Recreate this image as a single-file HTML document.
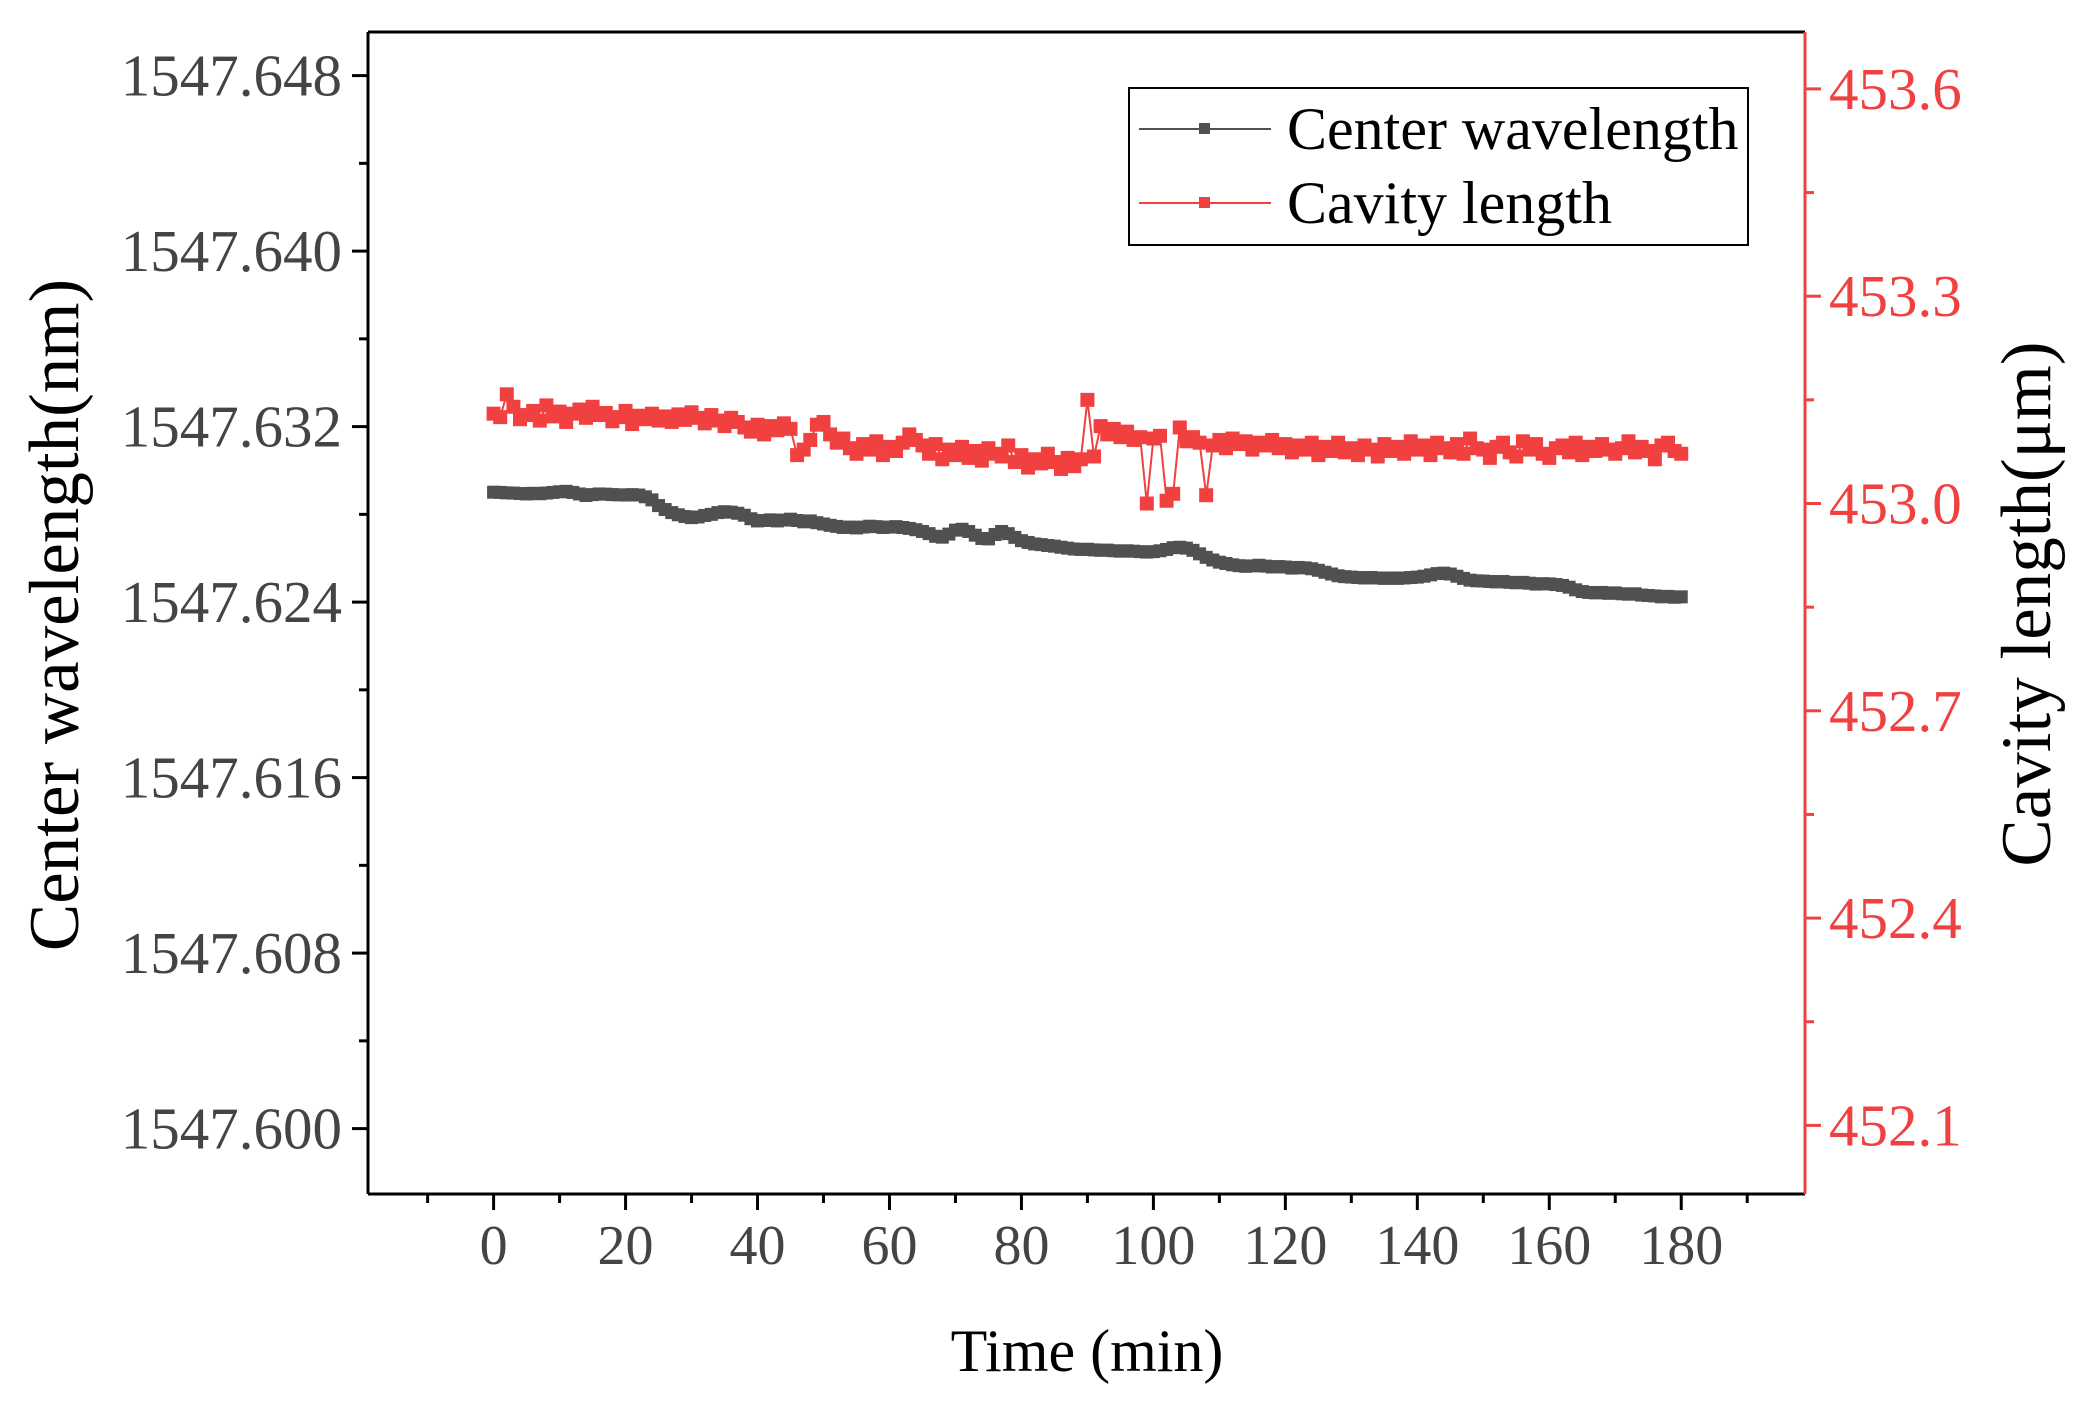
<!DOCTYPE html>
<html><head><meta charset="utf-8"><style>
html,body{margin:0;padding:0;background:#fff;}
svg{display:block;font-family:"Liberation Serif",serif;}
</style></head><body>
<svg id="chart" width="2081" height="1402" viewBox="0 0 2081 1402" xmlns="http://www.w3.org/2000/svg">
<g id="axes"></g>
<g id="series"></g>
<g id="legend">
<rect x="1129" y="88" width="619" height="157" fill="#fff" stroke="#000" stroke-width="2"/>
<g>
<line x1="1139" y1="129" x2="1271" y2="129" stroke="#505050" stroke-width="2"/>
<rect x="1199" y="123" width="11" height="11" fill="#505050"/>
<text x="1287" y="149" font-size="60" fill="#000">Center wavelength</text>
</g>
<g>
<line x1="1139" y1="203" x2="1271" y2="203" stroke="#f04040" stroke-width="2"/>
<rect x="1199" y="197" width="11" height="11" fill="#f04040"/>
<text x="1287" y="223" font-size="60" fill="#000">Cavity length</text>
</g>
</g>
<text x="1087" y="1371" font-size="60" text-anchor="middle" fill="#000">Time (min)</text>
<text transform="translate(78,615) rotate(-90)" font-size="71" text-anchor="middle" fill="#000">Center wavelength(nm)</text>
<text transform="translate(2050,604) rotate(-90)" font-size="71" text-anchor="middle" fill="#000">Cavity length(μm)</text>
</svg>
<script>
const times = [];
for (let i = 0; i <= 180; i++) times.push(i);
const wavelength = [1547.62901,1547.62900,1547.62898,1547.62897,1547.62895,1547.62893,1547.62896,1547.62894,1547.62897,1547.62900,1547.62903,1547.62905,1547.62900,1547.62893,1547.62886,1547.62890,1547.62893,1547.62892,1547.62890,1547.62889,1547.62888,1547.62890,1547.62888,1547.62880,1547.62866,
1547.62840,1547.62822,1547.62808,1547.62798,1547.62790,1547.62785,1547.62788,1547.62795,1547.62800,1547.62808,1547.62812,1547.62810,1547.62805,1547.62796,1547.62780,1547.62770,1547.62772,1547.62775,1547.62770,1547.62774,1547.62778,1547.62772,1547.62766,1547.62770,1547.62762,
1547.62756,1547.62750,1547.62745,1547.62740,1547.62742,1547.62738,1547.62742,1547.62746,1547.62744,1547.62740,1547.62742,1547.62744,1547.62740,1547.62736,1547.62730,1547.62722,1547.62712,1547.62700,1547.62696,1547.62710,1547.62728,1547.62732,1547.62722,1547.62705,1547.62690,
1547.62688,1547.62708,1547.62722,1547.62712,1547.62695,1547.62680,1547.62672,1547.62665,1547.62662,1547.62658,1547.62655,1547.62650,1547.62646,1547.62642,1547.62640,1547.62641,1547.62638,1547.62636,1547.62637,1547.62634,1547.62632,1547.62634,1547.62632,1547.62630,1547.62628,
1547.62630,1547.62634,1547.62640,1547.62648,1547.62650,1547.62646,1547.62636,1547.62620,1547.62604,1547.62592,1547.62582,1547.62576,1547.62570,1547.62566,1547.62563,1547.62565,1547.62568,1547.62564,1547.62560,1547.62562,1547.62560,1547.62555,1547.62558,1547.62556,1547.62552,
1547.62545,1547.62536,1547.62528,1547.62520,1547.62516,1547.62514,1547.62512,1547.62510,1547.62512,1547.62510,1547.62508,1547.62510,1547.62508,1547.62510,1547.62512,1547.62514,1547.62518,1547.62524,1547.62530,1547.62532,1547.62528,1547.62518,1547.62508,1547.62500,1547.62497,
1547.62496,1547.62494,1547.62492,1547.62494,1547.62490,1547.62488,1547.62490,1547.62486,1547.62482,1547.62484,1547.62483,1547.62480,1547.62476,1547.62468,1547.62456,1547.62448,1547.62444,1547.62442,1547.62444,1547.62440,1547.62442,1547.62438,1547.62436,1547.62438,1547.62432,
1547.62430,1547.62428,1547.62424,1547.62426,1547.62422,1547.62424];
const cavity = [453.130,453.125,453.158,453.140,453.122,453.128,453.134,453.120,453.142,453.126,453.133,453.118,453.130,453.136,453.124,453.140,453.128,453.131,453.119,453.125,
453.134,453.115,453.127,453.122,453.130,453.120,453.126,453.118,453.129,453.121,453.132,453.124,453.116,453.128,453.120,453.112,453.124,453.118,453.110,453.104,
453.114,453.100,453.112,453.106,453.116,453.108,453.070,453.078,453.092,453.114,453.118,453.100,453.088,453.094,453.080,453.072,453.086,453.078,453.090,453.070,
453.082,453.076,453.088,453.100,453.092,453.084,453.072,453.086,453.064,453.078,453.070,453.082,453.066,453.076,453.062,453.080,453.072,453.068,453.084,453.060,
453.070,453.052,453.064,453.058,453.072,453.060,453.050,453.066,453.054,453.064,453.150,453.068,453.112,453.100,453.108,453.096,453.104,453.092,453.096,453.000,
453.094,453.098,453.004,453.014,453.110,453.090,453.096,453.088,453.012,453.084,453.092,453.080,453.094,453.086,453.090,453.078,453.088,453.084,453.092,453.080,
453.086,453.074,453.084,453.078,453.088,453.070,453.082,453.076,453.088,453.074,453.080,453.070,453.084,453.078,453.068,453.086,453.076,453.082,453.072,453.090,
453.078,453.084,453.070,453.088,453.080,453.074,453.086,453.072,453.094,453.080,453.078,453.066,453.082,453.088,453.074,453.068,453.090,453.078,453.086,453.072,
453.066,453.080,453.084,453.074,453.088,453.070,453.082,453.076,453.086,453.078,453.072,453.080,453.090,453.074,453.082,453.076,453.064,453.084,453.088,453.076,453.072];
const xTicks = [0,20,40,60,80,100,120,140,160,180];
const xMinor = [-10,10,30,50,70,90,110,130,150,170,190];
const leftTicks = ["1547.600","1547.608","1547.616","1547.624","1547.632","1547.640","1547.648"];
const rightTicks = ["452.1","452.4","452.7","453.0","453.3","453.6"];

const L=368,R=1805,T=32,B=1194;
const NS="http://www.w3.org/2000/svg";
function X(t){return 493.6+t*6.598;}
function YL(v){return 75.6+(1547.648-v)/0.008*175.5;}
function YR(v){return 88.9+(453.6-v)/0.3*207.3;}
function mk(tag,attrs,parent){const e=document.createElementNS(NS,tag);for(const k in attrs)e.setAttribute(k,attrs[k]);parent.appendChild(e);return e;}
const axes=document.getElementById('axes');
const series=document.getElementById('series');
const RED="#f04040";

let e;
e=mk('line',{x1:L,y1:T,x2:R,y2:T,stroke:'#000','stroke-width':3},axes);


e=mk('line',{x1:L,y1:B,x2:R,y2:B,stroke:'#000','stroke-width':3},axes);


e=mk('line',{x1:L,y1:T,x2:L,y2:B,stroke:'#000','stroke-width':3},axes);


e=mk('line',{x1:R,y1:T,x2:R,y2:B,stroke:RED,'stroke-width':3},axes);



xTicks.forEach(t=>{
  const x=X(t);
  e=mk('line',{x1:x,y1:B,x2:x,y2:B+16,stroke:'#000','stroke-width':3},axes);
  
  
  e=mk('text',{x:x,y:1264,'font-size':56,'text-anchor':'middle',fill:'#444'},axes);
  e.textContent=t;
  
  
});
xMinor.forEach(t=>{
  e=mk('line',{x1:X(t),y1:B,x2:X(t),y2:B+9,stroke:'#000','stroke-width':3},axes);
  
  
});
leftTicks.forEach(s=>{
  const y=YL(parseFloat(s));
  e=mk('line',{x1:L-16,y1:y,x2:L,y2:y,stroke:'#000','stroke-width':3},axes);
  
  
  const ym=YL(parseFloat(s)-0.004);
  if(ym<B){
    e=mk('line',{x1:L-9,y1:ym,x2:L,y2:ym,stroke:'#000','stroke-width':3},axes);
    
    
  }
  e=mk('text',{x:342,y:y+20,'font-size':59,'text-anchor':'end',fill:'#444'},axes);
  e.textContent=s;
  
  
});
rightTicks.forEach(s=>{
  const y=YR(parseFloat(s));
  e=mk('line',{x1:R,y1:y,x2:R+16,y2:y,stroke:RED,'stroke-width':3},axes);
  
  
  const ym=YR(parseFloat(s)-0.15);
  if(ym<B){
    e=mk('line',{x1:R,y1:ym,x2:R+9,y2:ym,stroke:RED,'stroke-width':3},axes);
    
    
  }
  e=mk('text',{x:1829,y:y+20,'font-size':59,'text-anchor':'start',fill:RED},axes);
  e.textContent=s;
  
  
});

function drawSeries(vals,yf,color,name,sz){
  const g=mk('g',{},series);
  
  
  const pts=vals.map((v,i)=>X(times[i]).toFixed(1)+','+yf(v).toFixed(1)).join(' ');
  e=mk('polyline',{points:pts,fill:'none',stroke:color,'stroke-width':2},g);
  
  
  vals.forEach((v,i)=>{
    e=mk('rect',{x:X(times[i])-sz/2,y:yf(v)-sz/2,width:sz,height:sz,fill:color},g);
    
    
  });
}
drawSeries(wavelength,YL,'#505050','center-wavelength-series',13);
drawSeries(cavity,YR,RED,'cavity-length-series',14);
</script>
</body></html>
